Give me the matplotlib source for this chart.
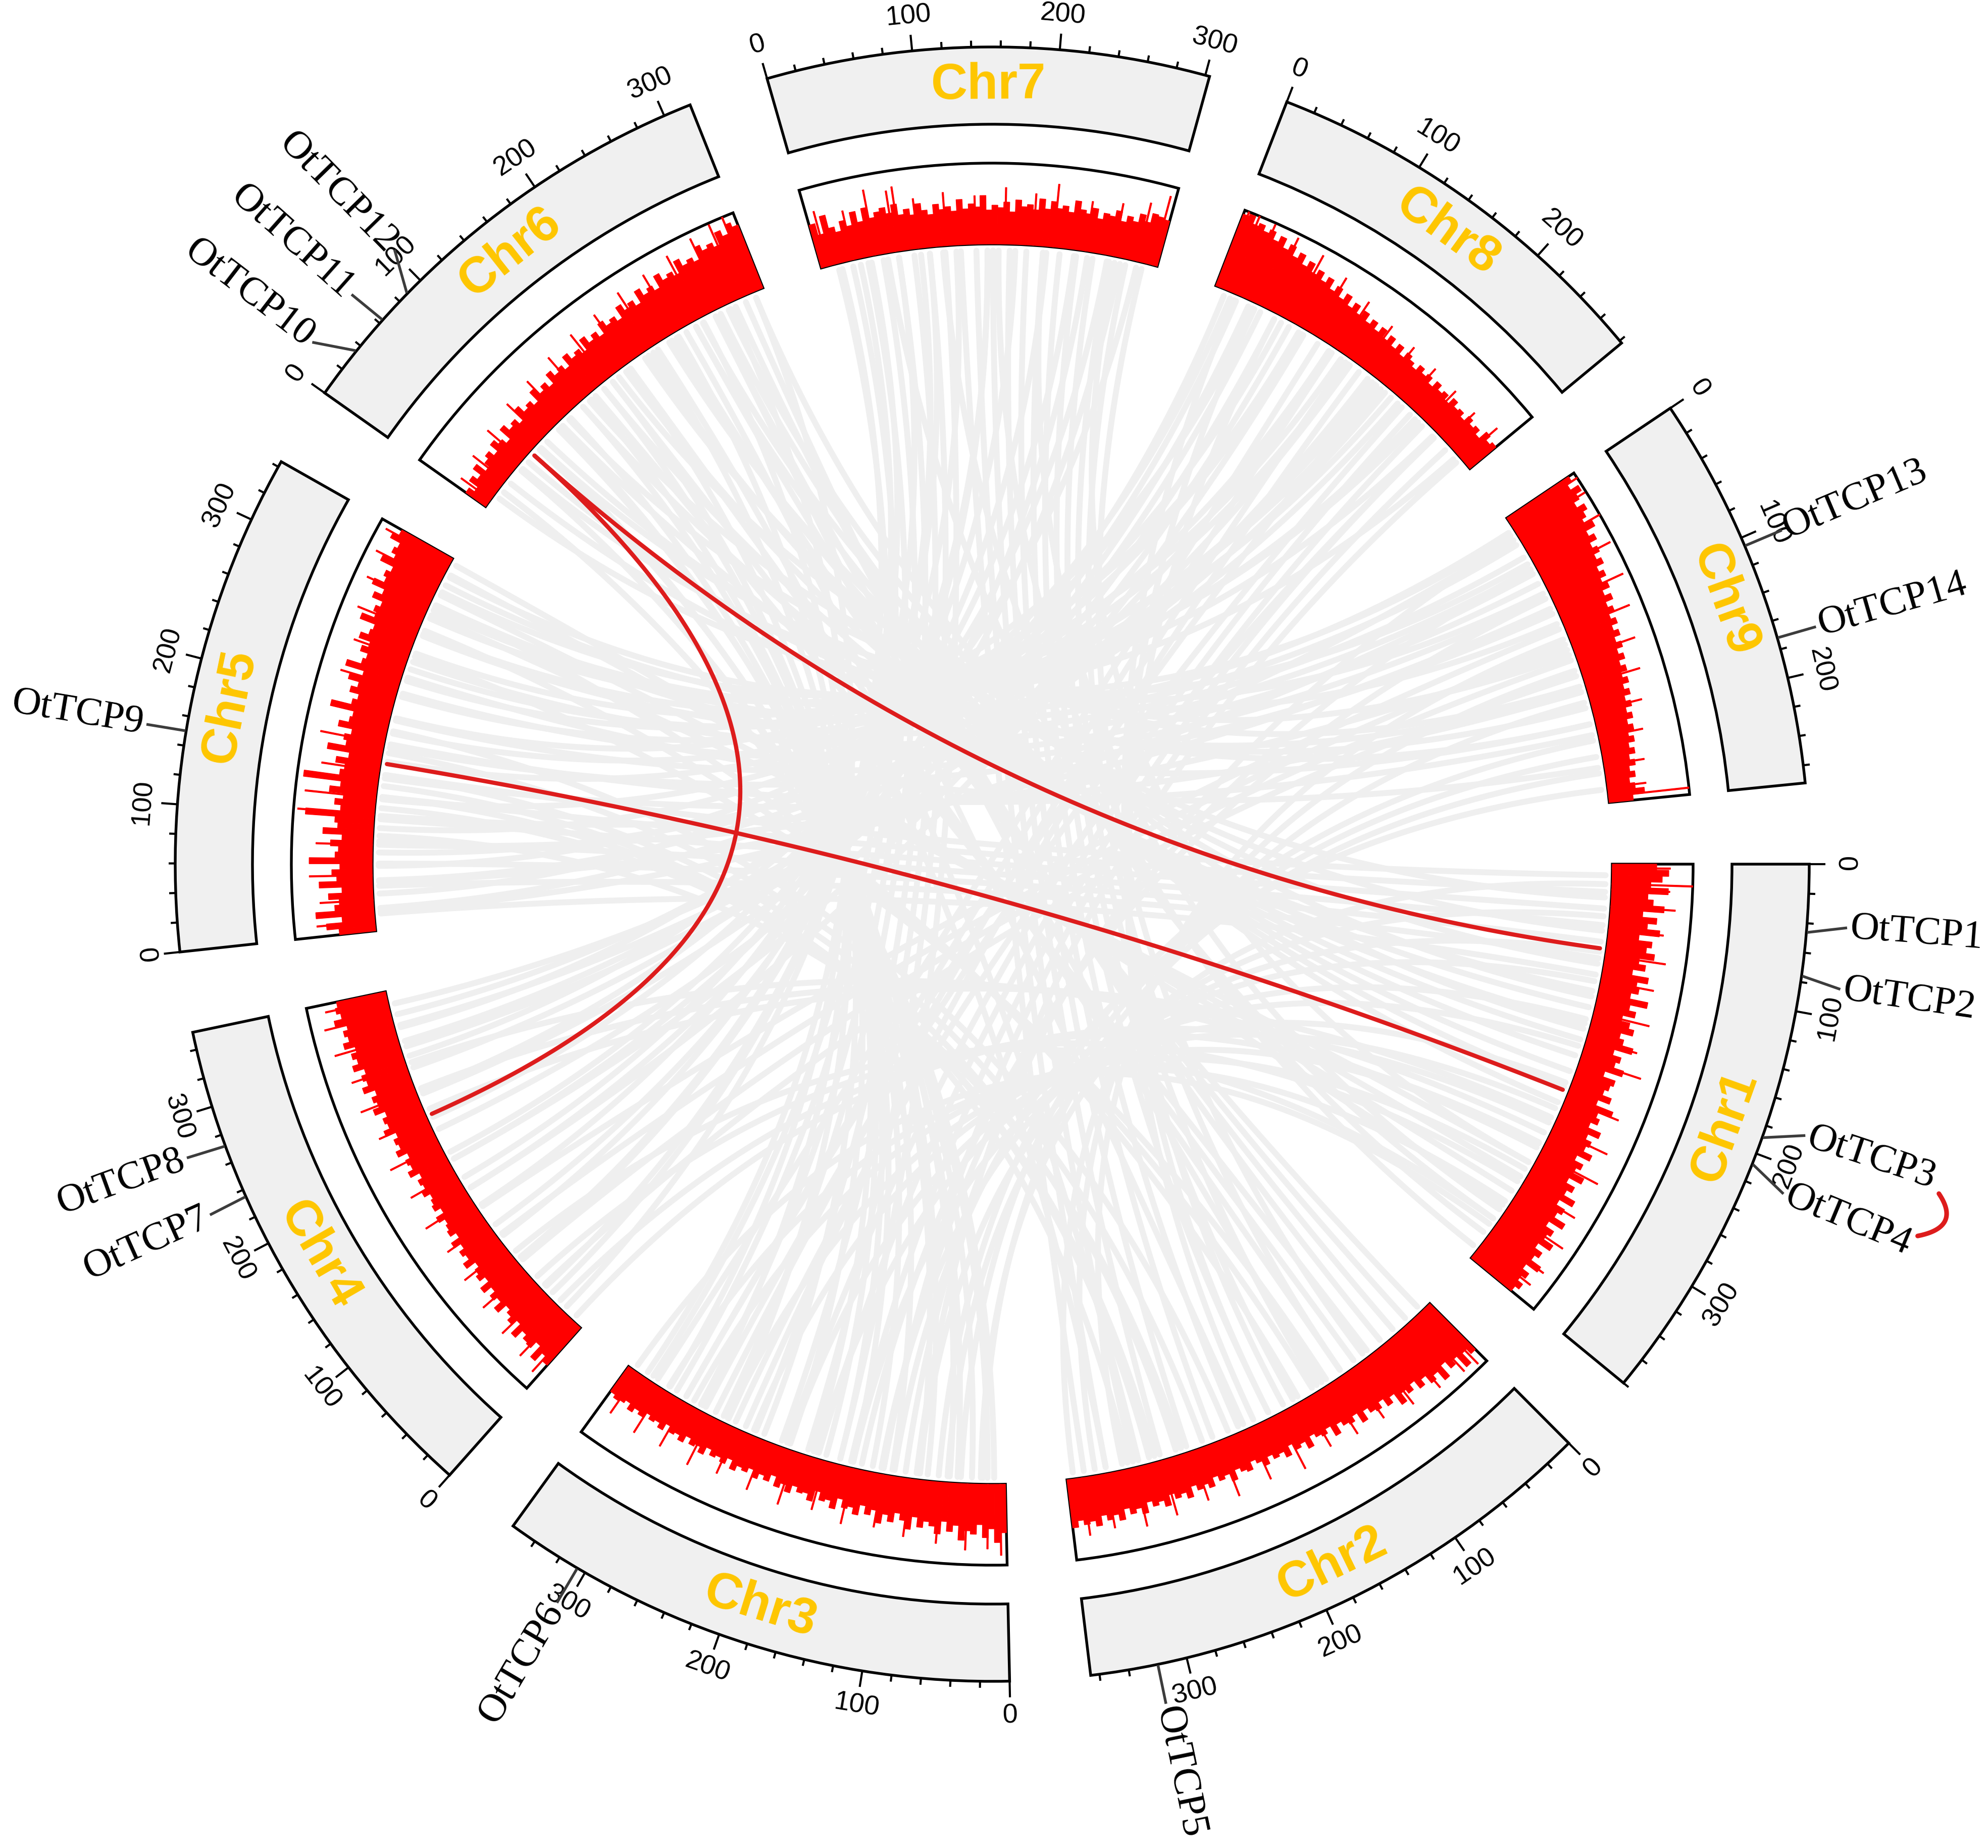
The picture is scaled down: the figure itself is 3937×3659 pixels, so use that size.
import numpy as np
import matplotlib.pyplot as plt

# chromosome sizes (Mb)
chroms = ['Chr1', 'Chr2', 'Chr3', 'Chr4', 'Chr5', 'Chr6', 'Chr7', 'Chr8', 'Chr9']
chrom_len = [380, 366, 358, 352, 344, 319, 303, 282, 272]
gap = 55

# gene density per 5 Mb bin (percent of track height)
dens_chr1 = [55, 70, 62, 48, 70, 45, 52, 66, 40, 58, 47, 63, 38, 55, 49, 60, 42, 51, 36, 57,
             44, 48, 39, 62, 41, 50, 35, 46, 53, 38, 44, 58, 36, 47, 42, 55, 33, 49, 45, 40,
             52, 37, 60, 43, 48, 39, 56, 42, 50, 46, 58, 41, 53, 47, 62, 45, 57, 50, 66, 48,
             60, 54, 70, 51, 63, 58, 72, 55, 66, 60, 75, 58, 68, 62, 70, 64]
dens_chr2 = [80, 72, 88, 70, 76, 65, 82, 68, 74, 62, 70, 58, 66, 60, 72, 55, 63, 52, 60, 57,
             50, 62, 48, 55, 52, 46, 58, 44, 50, 47, 42, 55, 45, 49, 40, 52, 44, 47, 41, 50,
             43, 38, 48, 45, 40, 52, 42, 46, 39, 50, 44, 48, 41, 54, 46, 50, 43, 56, 48, 52,
             45, 58, 50, 55, 47, 60, 52, 57, 50, 62, 55, 58, 52, 60]
dens_chr3 = [60, 72, 55, 66, 50, 62, 58, 70, 52, 60, 48, 64, 55, 50, 58, 46, 62, 52, 44, 56,
             48, 60, 45, 52, 42, 55, 47, 50, 40, 54, 45, 48, 38, 52, 44, 46, 40, 50, 42, 48,
             36, 45, 40, 47, 38, 44, 41, 48, 37, 45, 40, 43, 36, 46, 39, 42, 35, 44, 38, 41,
             34, 43, 37, 40, 35, 42, 38, 44, 36, 40, 42, 38]
dens_chr4 = [62, 55, 68, 50, 60, 58, 52, 64, 48, 56, 50, 45, 58, 47, 52, 44, 55, 42, 50, 46,
             40, 53, 44, 48, 41, 50, 38, 46, 43, 40, 48, 37, 45, 42, 39, 47, 41, 44, 38, 50,
             43, 46, 40, 52, 45, 48, 42, 55, 47, 50, 44, 57, 49, 53, 46, 60, 52, 56, 50, 63,
             55, 60, 53, 66, 58, 62, 56, 70, 60, 65, 62]
dens_chr5 = [45, 60, 40, 72, 48, 42, 55, 38, 66, 44, 50, 40, 78, 46, 42, 52, 38, 62, 44, 48,
             85, 42, 50, 40, 58, 45, 92, 48, 43, 55, 40, 68, 46, 50, 42, 60, 48, 45, 75, 50,
             44, 56, 48, 62, 46, 70, 52, 48, 58, 50, 65, 55, 52, 72, 56, 60, 54, 68, 58, 75,
             62, 66, 60, 78, 64, 70, 66, 80, 72]
dens_chr6 = [30, 22, 35, 28, 40, 26, 33, 38, 30, 42, 35, 28, 45, 36, 40, 32, 48, 38, 42, 35,
             50, 40, 46, 38, 52, 44, 48, 41, 55, 46, 50, 43, 58, 48, 54, 46, 60, 52, 56, 49,
             64, 55, 60, 52, 68, 58, 63, 56, 72, 62, 66, 60, 76, 66, 70, 64, 80, 72, 76, 70,
             86, 78, 90, 84]
dens_chr7 = [55, 40, 62, 45, 38, 50, 42, 58, 44, 60, 46, 52, 56, 48, 58, 44, 50, 42, 55, 46,
             40, 52, 45, 48, 42, 56, 44, 50, 46, 60, 42, 48, 45, 52, 40, 55, 47, 50, 44, 58,
             46, 56, 48, 52, 45, 60, 50, 46, 54, 42, 50, 48, 56, 44, 52, 47, 58, 50, 62, 60, 58]
dens_chr8 = [95, 98, 88, 92, 85, 90, 80, 88, 76, 84, 72, 80, 68, 76, 65, 72, 62, 70, 58, 66,
             55, 64, 52, 60, 50, 58, 48, 55, 46, 54, 44, 52, 42, 50, 40, 48, 43, 38, 46, 40,
             44, 36, 45, 38, 42, 35, 44, 37, 40, 34, 42, 36, 40, 33, 45, 38, 42]
dens_chr9 = [92, 85, 96, 88, 80, 90, 84, 78, 88, 75, 82, 72, 78, 70, 76, 66, 72, 64, 70, 60,
             68, 58, 64, 56, 62, 54, 60, 52, 58, 50, 56, 48, 54, 46, 52, 44, 50, 42, 48, 40,
             46, 38, 44, 36, 42, 34, 40, 32, 38, 30, 36, 28, 34, 45, 30]
densities = [dens_chr1, dens_chr2, dens_chr3, dens_chr4, dens_chr5,
             dens_chr6, dens_chr7, dens_chr8, dens_chr9]

# narrow peaks standing out of the density track (position Mb, percent)
spike_pos = [[3, 17, 22, 37, 58, 81, 104, 133, 157, 176, 214, 243, 268, 301, 327, 352, 366],
             [6, 18, 41, 66, 92, 117, 141, 168, 197, 226, 251, 279, 305, 331, 352],
             [4, 15, 33, 57, 84, 109, 136, 162, 190, 218, 246, 271, 298, 322, 347],
             [5, 21, 44, 70, 97, 124, 150, 178, 206, 233, 259, 284, 309, 331, 345],
             [8, 27, 49, 76, 103, 118, 142, 167, 193, 219, 246, 272, 297, 319, 338],
             [7, 28, 52, 79, 104, 130, 156, 181, 207, 232, 256, 279, 297, 309],
             [6, 29, 49, 67, 72, 88, 113, 139, 165, 190, 208, 237, 262, 284, 298],
             [3, 12, 26, 47, 71, 96, 122, 149, 174, 199, 224, 248, 270],
             [4, 17, 38, 61, 88, 113, 139, 164, 189, 213, 238, 258, 266]]
spike_val = [[72, 100, 72, 80, 68, 75, 66, 70, 64, 78, 70, 74, 80, 76, 84, 82, 78],
             [95, 90, 85, 80, 72, 70, 66, 75, 68, 72, 64, 70, 74, 68, 72],
             [88, 80, 82, 76, 72, 66, 70, 62, 68, 64, 60, 66, 62, 64, 60],
             [80, 76, 72, 68, 64, 60, 66, 62, 68, 64, 72, 70, 80, 84, 78],
             [72, 66, 78, 70, 95, 88, 72, 80, 68, 74, 70, 80, 84, 88, 90],
             [45, 50, 56, 60, 62, 66, 70, 72, 78, 80, 86, 92, 98, 100],
             [70, 62, 82, 76, 80, 62, 66, 60, 70, 64, 78, 62, 66, 74, 88],
             [100, 100, 98, 95, 90, 80, 70, 62, 58, 55, 52, 50, 58],
             [100, 98, 100, 95, 92, 84, 76, 70, 62, 55, 50, 48, 100]]

# TCP genes (chromosome, position in Mb)
gene_names = ['OtTCP1', 'OtTCP2', 'OtTCP3', 'OtTCP4', 'OtTCP5', 'OtTCP6', 'OtTCP7',
              'OtTCP8', 'OtTCP9', 'OtTCP10', 'OtTCP11', 'OtTCP12', 'OtTCP13', 'OtTCP14']
gene_chr = [1, 1, 1, 1, 2, 3, 4, 4, 5, 6, 6, 6, 9, 9]
gene_pos = [46, 76, 188, 208, 320, 306, 235, 272, 150, 35, 63, 88, 106, 172]

# segmental duplication pairs among TCP genes
red_a_chr = [6, 6, 5]
red_a_pos = [63, 63, 150]
red_b_chr = [4, 1, 1]
red_b_pos = [235, 76, 208]

# genome-wide collinear blocks (grey)
link_a_chr = [7, 7, 7, 7, 7, 7, 7, 7, 7, 7, 7, 7, 7, 7, 7, 7, 7, 7, 7, 7, 7, 7, 7, 7, 7,
              8, 8, 8, 8, 8, 8, 8, 8, 8, 8, 8, 8, 8, 8, 8, 8, 8, 8, 8,
              9, 9, 9, 9, 9, 9, 9, 9, 9, 9, 9, 9, 9, 9, 9, 9, 9, 9,
              1, 1, 1, 1, 1, 1, 1, 1, 1, 1, 1, 1, 1, 1, 1, 1, 1, 1, 1, 1, 1, 1, 1, 1, 1,
              2, 2, 2, 2, 2, 2, 2, 2, 2, 2, 2, 2, 2, 2, 2, 2, 2, 2, 2, 2,
              3, 3, 3, 3, 3, 3, 3, 3, 3, 3,
              4, 4, 4, 4, 4, 4,
              5, 5, 5, 5, 5,
              6, 6, 6, 6, 6, 6, 6,
              4, 4, 4,
              1, 1, 1, 1, 1, 1, 1, 1, 1, 1, 1, 1,
              4, 4, 4, 4, 4, 4, 4, 4, 4, 4, 4,
              5, 5, 5, 5, 5, 5, 5, 5, 5, 5, 5,
              6, 6, 6, 6, 6, 6, 6, 6, 6, 6, 6,
              8, 8, 8, 8, 8, 8, 8, 8, 8, 8, 8,
              3, 3, 3, 3, 3, 3, 3, 3, 3, 3, 3, 3]
link_a_pos = [15, 28, 42, 56, 70, 84, 98, 112, 126, 140, 155, 170, 185, 200, 215,
              230, 245, 260, 275, 290, 35, 90, 150, 200, 265,
              10, 22, 34, 46, 60, 75, 90, 105, 120, 135, 150, 165, 180, 195,
              210, 225, 240, 255, 270,
              12, 25, 38, 51, 65, 80, 95, 110, 125, 140, 155, 170, 185, 200,
              215, 230, 245, 260,
              10, 25, 40, 55, 70, 85, 100, 115, 130, 145, 160, 175, 190, 205, 220,
              235, 250, 265, 280, 295, 310, 325, 340, 355, 370,
              10, 25, 40, 55, 70, 85, 100, 115, 130, 145, 160, 175, 190,
              215, 240, 265, 290, 315, 340, 360,
              10, 30, 50, 70, 90, 110, 130, 250, 280, 300,
              10, 30, 60, 90, 160, 190,
              85, 110, 130, 230, 300,
              210, 240, 270, 300, 110, 135, 160,
              300, 320, 340,
              18, 47, 79, 106, 141, 166, 201, 226, 261, 287, 321, 346,
              22, 48, 83, 108, 142, 171, 197, 232, 258, 291, 318,
              17, 44, 77, 103, 137, 168, 192, 227, 253, 287, 313,
              13, 47, 72, 108, 133, 167, 196, 222, 257, 283, 310,
              16, 38, 67, 88, 117, 138, 168, 187, 216, 238, 266,
              16, 43, 77, 102, 138, 163, 197, 222, 257, 283, 317, 341]
link_b_chr = [3, 3, 3, 3, 3, 3, 3, 3, 2, 2, 2, 2, 2, 2, 2, 2, 2, 2, 2, 2, 4, 4, 4, 1, 1,
              4, 4, 4, 4, 4, 4, 4, 3, 3, 3, 3, 5, 5, 5, 3, 3, 3, 3, 3,
              5, 5, 5, 5, 5, 5, 5, 4, 4, 4, 4, 6, 6, 6, 3, 3, 3, 3,
              5, 5, 5, 5, 5, 5, 5, 6, 6, 6, 6, 6, 6, 6, 6, 4, 4, 4, 5, 5, 5, 5, 7, 7, 7,
              6, 6, 6, 6, 6, 6, 6, 5, 5, 5, 8, 8, 8, 5, 5, 5, 5, 9, 9, 9,
              6, 6, 6, 6, 9, 9, 9, 8, 8, 8,
              1, 1, 1, 1, 7, 7,
              2, 2, 2, 9, 9,
              2, 2, 2, 2, 3, 3, 3,
              8, 8, 8,
              3, 3, 3, 3, 3, 3, 3, 3, 3, 3, 3, 3,
              7, 7, 7, 7, 7, 7, 7, 7, 7, 7, 7,
              9, 9, 9, 9, 9, 9, 8, 8, 8, 8, 8,
              9, 9, 9, 9, 9, 9, 1, 1, 1, 1, 1,
              5, 5, 5, 5, 5, 5, 5, 5, 5, 5, 5,
              6, 6, 6, 6, 6, 6, 6, 6, 6, 6, 6, 6]
link_b_pos = [335, 310, 285, 262, 230, 205, 180, 150, 350, 330, 305, 280, 255, 230, 205,
              175, 150, 125, 100, 75, 40, 80, 120, 330, 280,
              330, 305, 280, 255, 220, 190, 160, 330, 300, 270, 240, 20, 45, 70,
              200, 170, 140, 110, 80,
              320, 295, 270, 245, 215, 190, 165, 140, 110, 80, 50, 30, 55, 80,
              60, 40, 20, 100,
              140, 120, 100, 80, 60, 40, 15, 100, 125, 150, 175, 200, 225, 250, 275,
              240, 260, 285, 290, 310, 330, 340, 60, 110, 160,
              230, 250, 270, 290, 140, 160, 180, 250, 275, 300, 20, 40, 60,
              180, 160, 140, 120, 120, 150, 180,
              20, 45, 70, 95, 20, 50, 80, 240, 200, 170,
              240, 260, 300, 340, 240, 270,
              260, 285, 310, 240, 200,
              330, 300, 200, 120, 120, 150, 175,
              120, 140, 160,
              22, 52, 78, 112, 138, 172, 198, 232, 258, 292, 318, 352,
              18, 45, 70, 98, 122, 150, 175, 203, 228, 258, 285,
              20, 55, 90, 130, 170, 210, 40, 85, 130, 175, 220,
              15, 45, 75, 105, 135, 165, 30, 60, 90, 120, 150,
              33, 58, 92, 118, 152, 178, 212, 238, 272, 298, 328,
              20, 45, 72, 98, 125, 150, 178, 205, 232, 258, 285, 310]

# ---- geometry (pixels) ----
W, H, DPI = 3937, 3659, 300
CX, CY = 1965, H - 1711
RMAX = 2100
R_IDEO_IN, R_IDEO_OUT = 1465, 1618
R_HIST_IN, R_HIST_OUT = 1228, 1388
R_LINK = 1215

total = sum(chrom_len) + gap * len(chrom_len)
dpu = 2 * np.pi / total
start = {}
acc = 0
for i, L in enumerate(chrom_len):
    start[i + 1] = -acc * dpu
    acc += L + gap


def ang(c, p):
    return start[c] - p * dpu


def tangent_rot(theta):
    d = np.degrees(theta) % 360
    if d <= 180:
        return d - 90
    return d + 90 - 360


t = np.linspace(0, 1, 240)


def bezier(a0, r0, a1, r1, ac=0.0, rc=0.0):
    p0 = np.array([r0 * np.cos(a0), r0 * np.sin(a0)])
    p2 = np.array([r1 * np.cos(a1), r1 * np.sin(a1)])
    pc = np.array([rc * np.cos(ac), rc * np.sin(ac)])
    xy = ((1 - t) ** 2)[:, None] * p0 + (2 * (1 - t) * t)[:, None] * pc + (t ** 2)[:, None] * p2
    th = np.unwrap(np.arctan2(xy[:, 1], xy[:, 0]))
    return th, np.hypot(xy[:, 0], xy[:, 1])


fig = plt.figure(figsize=(W / DPI, H / DPI), dpi=DPI)
ax = fig.add_axes([(CX - RMAX) / W, (CY - RMAX) / H, 2 * RMAX / W, 2 * RMAX / H],
                  projection='polar')
ax.set_ylim(0, RMAX)
ax.set_axis_off()

# grey links
for ca, pa, cb, pb in zip(link_a_chr, link_a_pos, link_b_chr, link_b_pos):
    th, rr = bezier(ang(ca, pa), R_LINK, ang(cb, pb), R_LINK)
    ax.plot(th, rr, color='#EFEFEF', lw=2.8, solid_capstyle='round', zorder=1)

# red links
for ca, pa, cb, pb in zip(red_a_chr, red_a_pos, red_b_chr, red_b_pos):
    th, rr = bezier(ang(ca, pa), R_LINK, ang(cb, pb), R_LINK)
    ax.plot(th, rr, color='#DD1C1C', lw=2.0, solid_capstyle='round', zorder=2)

track = R_HIST_OUT - R_HIST_IN
for i, (name, L, vals) in enumerate(zip(chroms, chrom_len, densities)):
    c = i + 1
    # ideogram
    ax.bar(ang(c, L), R_IDEO_OUT - R_IDEO_IN, width=L * dpu, bottom=R_IDEO_IN, align='edge',
           facecolor='#F0F0F0', edgecolor='black', linewidth=1.3, zorder=3)
    mid = ang(c, L / 2)
    ax.text(mid, (R_IDEO_IN + R_IDEO_OUT) / 2, name, rotation=tangent_rot(mid),
            rotation_mode='anchor', ha='center', va='center', fontsize=24,
            fontweight='bold', color='#FFC600', family='Liberation Sans', zorder=5)
    # density track
    ax.bar(ang(c, L), track, width=L * dpu, bottom=R_HIST_IN, align='edge',
           facecolor='white', edgecolor='black', linewidth=1.3, zorder=3)
    n = len(vals)
    bw = L / n
    lefts = [ang(c, (k + 1) * bw) for k in range(n)]
    ax.bar(lefts, np.array(vals) / 100.0 * track, width=bw * dpu, bottom=R_HIST_IN,
           align='edge', color='#FF0000', edgecolor='#FF0000', linewidth=0.3, zorder=4)
    sp = [ang(c, p + 1.2) for p in spike_pos[i]]
    ax.bar(sp, np.array(spike_val[i]) / 100.0 * track, width=1.2 * dpu, bottom=R_HIST_IN,
           align='edge', color='#FF0000', edgecolor='#FF0000', linewidth=0.3, zorder=4)
    # ticks
    pos = np.arange(0, L + 1, 20)
    th = [ang(c, p) for p in pos]
    tl = np.where(pos % 100 == 0, 32, 13)
    ax.vlines(th, R_IDEO_OUT, R_IDEO_OUT + tl, color='black', lw=1.0, zorder=4)
    for p in range(0, L + 1, 100):
        a = ang(c, p)
        ax.text(a, 1687, str(p), rotation=tangent_rot(a), rotation_mode='anchor',
                ha='center', va='center', fontsize=13, family='Liberation Sans')

# gene labels, spread apart where crowded
g_ang = np.array([np.degrees(ang(c, p)) for c, p in zip(gene_chr, gene_pos)])
g_ang = (g_ang + 180) % 360 - 180
lab = g_ang.copy()
order = np.argsort(g_ang)
MIN_SEP = 4.1
for _ in range(200):
    s = lab[order]
    for k in range(len(s) - 1):
        d = s[k + 1] - s[k]
        if d < MIN_SEP:
            s[k] -= (MIN_SEP - d) / 2
            s[k + 1] += (MIN_SEP - d) / 2
    lab[order] = s

for name, ga, la in zip(gene_names, g_ang, lab):
    ax.plot([np.radians(ga), np.radians(la)], [R_IDEO_OUT + 4, 1695], color='#3C3C3C',
            lw=1.3, zorder=4)
    if np.cos(np.radians(la)) >= 0:
        rot, ha = la, 'left'
    else:
        rot, ha = (la - 180 if la > 0 else la + 180), 'right'
    ax.text(np.radians(la), 1704, name, rotation=rot, rotation_mode='anchor', ha=ha,
            va='center', fontsize=19, family='Liberation Serif')

# tandem pair bracket (OtTCP3 - OtTCP4)
a3, a4 = np.radians(lab[2] - 0.7), np.radians(lab[3] + 0.7)
th, rr = bezier(a3, 1985, a4, 1975, (a3 + a4) / 2, 2050)
ax.plot(th, rr, color='#DD1C1C', lw=2.2, solid_capstyle='round', zorder=4)

fig.savefig('out.png', dpi=DPI, facecolor='white')
